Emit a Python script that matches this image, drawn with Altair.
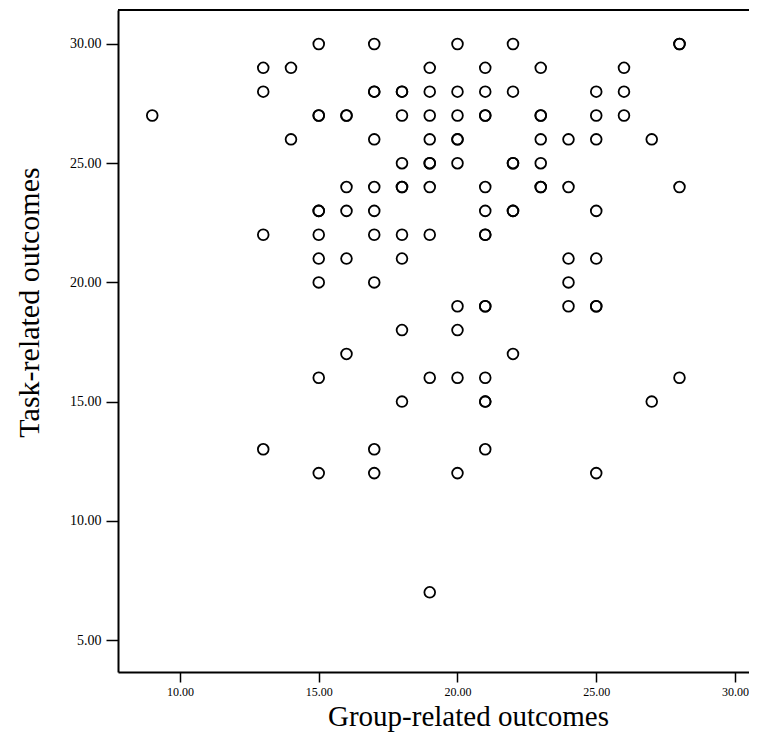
import altair as alt
import pandas as pd

# Group-related outcomes (x) and Task-related outcomes (y), one entry per case
group_vals = [
    15, 17, 20, 22, 28, 28,
    13, 14, 19, 21, 23, 26,
    13, 17, 17, 18, 18, 19, 20, 21, 22, 25, 26,
    9, 15, 15, 16, 16, 18, 19, 20, 21, 21, 23, 23, 25, 26,
    14, 17, 19, 20, 20, 23, 24, 25, 27,
    18, 19, 19, 20, 22, 22, 23,
    16, 17, 18, 18, 19, 21, 23, 23, 24, 28,
    15, 15, 16, 17, 21, 22, 22, 25,
    13, 15, 17, 18, 19, 21, 21,
    15, 16, 18, 24, 25,
    15, 17, 24,
    20, 21, 21, 24, 25, 25,
    18, 20,
    16, 22,
    15, 19, 20, 21, 28,
    18, 21, 21, 27,
    13, 17, 21,
    15, 17, 20, 25,
    19,
]
task_vals = [
    30, 30, 30, 30, 30, 30,
    29, 29, 29, 29, 29, 29,
    28, 28, 28, 28, 28, 28, 28, 28, 28, 28, 28,
    27, 27, 27, 27, 27, 27, 27, 27, 27, 27, 27, 27, 27, 27,
    26, 26, 26, 26, 26, 26, 26, 26, 26,
    25, 25, 25, 25, 25, 25, 25,
    24, 24, 24, 24, 24, 24, 24, 24, 24, 24,
    23, 23, 23, 23, 23, 23, 23, 23,
    22, 22, 22, 22, 22, 22, 22,
    21, 21, 21, 21, 21,
    20, 20, 20,
    19, 19, 19, 19, 19, 19,
    18, 18,
    17, 17,
    16, 16, 16, 16, 16,
    15, 15, 15, 15,
    13, 13, 13,
    12, 12, 12, 12,
    7,
]
x_ticks = [10, 15, 20, 25, 30]
y_ticks = [5, 10, 15, 20, 25, 30]

df = pd.DataFrame({"group": group_vals, "task": task_vals})

W, H = 631, 662
FONT = "Liberation Serif"

points = alt.Chart(df).mark_point(
    shape="circle", filled=False, color="black", size=115, strokeWidth=1.8, opacity=1
).encode(
    x=alt.X("group:Q", scale=alt.Scale(domain=[7.766, 30.505], nice=False, zero=False),
            axis=alt.Axis(values=x_ticks, format=".2f", title="Group-related outcomes",
                          grid=False, domainColor="black", domainWidth=2,
                          tickColor="black", tickWidth=1.5, tickSize=10,
                          labelFont=FONT, labelFontSize=12, labelColor="black", labelPadding=4,
                          titleFont=FONT, titleFontSize=29, titleFontWeight="normal",
                          titleColor="black", titleX=350, titleY=53,
                          titleAlign="center", titleBaseline="alphabetic")),
    y=alt.Y("task:Q", scale=alt.Scale(domain=[3.658, 31.426], nice=False, zero=False),
            axis=alt.Axis(values=y_ticks, format=".2f", title="Task-related outcomes",
                          grid=False, domainColor="black", domainWidth=2,
                          tickColor="black", tickWidth=1.5, tickSize=12,
                          labelFont=FONT, labelFontSize=14, labelColor="black", labelPadding=5,
                          titleFont=FONT, titleFontSize=30, titleFontWeight="normal",
                          titleColor="black", titleX=-80, titleY=292, titleAngle=270,
                          titleAlign="center", titleBaseline="alphabetic")),
)

top_line = alt.Chart(df).mark_rule(color="black", strokeWidth=2).encode(
    x=alt.value(0), x2=alt.value(W), y=alt.value(0)
)

chart = alt.layer(points, top_line).properties(
    width=W, height=H,
    autosize=alt.AutoSizeParams(type="none"),
    padding={"left": 110, "top": 2, "right": 0, "bottom": 60},
    background="white",
).configure_view(stroke=None)

chart.save("out.html", embed_options={"renderer": "svg", "actions": False})
